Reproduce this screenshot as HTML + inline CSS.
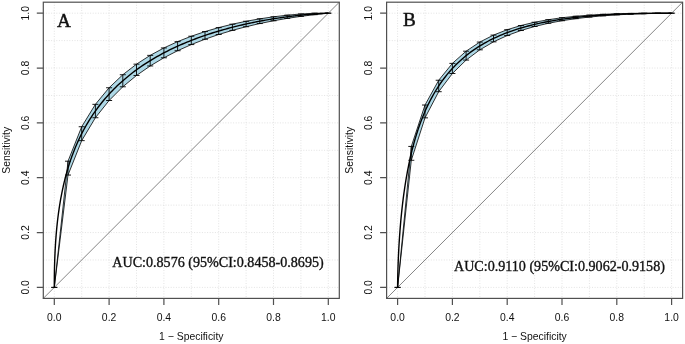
<!DOCTYPE html>
<html><head><meta charset="utf-8"><style>
html,body{margin:0;padding:0;background:#fff;}
svg{display:block;will-change:transform;}
</style></head><body>
<svg width="685" height="344" viewBox="0 0 685 344">
<rect width="685" height="344" fill="#fff"/>
<g stroke="#dcdcdc" stroke-width="0.8" stroke-dasharray="1 1.6"><line x1="54.30" y1="2.2" x2="54.30" y2="298.4"/><line x1="43.3" y1="287.40" x2="339.3" y2="287.40"/><line x1="81.70" y1="2.2" x2="81.70" y2="298.4"/><line x1="43.3" y1="259.98" x2="339.3" y2="259.98"/><line x1="109.10" y1="2.2" x2="109.10" y2="298.4"/><line x1="43.3" y1="232.56" x2="339.3" y2="232.56"/><line x1="136.50" y1="2.2" x2="136.50" y2="298.4"/><line x1="43.3" y1="205.14" x2="339.3" y2="205.14"/><line x1="163.90" y1="2.2" x2="163.90" y2="298.4"/><line x1="43.3" y1="177.72" x2="339.3" y2="177.72"/><line x1="191.30" y1="2.2" x2="191.30" y2="298.4"/><line x1="43.3" y1="150.30" x2="339.3" y2="150.30"/><line x1="218.70" y1="2.2" x2="218.70" y2="298.4"/><line x1="43.3" y1="122.88" x2="339.3" y2="122.88"/><line x1="246.10" y1="2.2" x2="246.10" y2="298.4"/><line x1="43.3" y1="95.46" x2="339.3" y2="95.46"/><line x1="273.50" y1="2.2" x2="273.50" y2="298.4"/><line x1="43.3" y1="68.04" x2="339.3" y2="68.04"/><line x1="300.90" y1="2.2" x2="300.90" y2="298.4"/><line x1="43.3" y1="40.62" x2="339.3" y2="40.62"/><line x1="328.30" y1="2.2" x2="328.30" y2="298.4"/><line x1="43.3" y1="13.20" x2="339.3" y2="13.20"/></g>
<line x1="43.3" y1="298.4" x2="339.3" y2="2.2" stroke="#858585" stroke-width="1.0"/>
<polygon fill="#add8e6" stroke="#000" stroke-width="0.8" points="54.30,287.40 68.00,175.06 81.70,140.63 95.40,117.73 109.10,100.51 122.80,86.79 136.50,75.48 150.20,65.94 163.90,57.79 177.60,50.73 191.30,44.59 205.00,39.22 218.70,34.50 232.40,30.36 246.10,26.72 259.80,23.54 273.50,20.77 287.20,18.38 300.90,16.35 314.60,14.67 328.30,13.20 328.30,13.20 314.60,13.21 300.90,13.99 287.20,15.20 273.50,16.82 259.80,18.83 246.10,21.28 232.40,24.19 218.70,27.60 205.00,31.59 191.30,36.23 177.60,41.64 163.90,47.95 150.20,55.36 136.50,64.16 122.80,74.74 109.10,87.76 95.40,104.33 81.70,126.74 68.00,161.19 54.30,287.40"/>
<path fill="none" stroke="#000" stroke-width="0.9" d="M54.30 287.40V287.40M51.29 287.40H57.31M51.29 287.40H57.31M68.00 175.06V161.19M64.99 175.06H71.01M64.99 161.19H71.01M81.70 140.63V126.74M78.69 140.63H84.71M78.69 126.74H84.71M95.40 117.73V104.33M92.39 117.73H98.41M92.39 104.33H98.41M109.10 100.51V87.76M106.09 100.51H112.11M106.09 87.76H112.11M122.80 86.79V74.74M119.79 86.79H125.81M119.79 74.74H125.81M136.50 75.48V64.16M133.49 75.48H139.51M133.49 64.16H139.51M150.20 65.94V55.36M147.19 65.94H153.21M147.19 55.36H153.21M163.90 57.79V47.95M160.89 57.79H166.91M160.89 47.95H166.91M177.60 50.73V41.64M174.59 50.73H180.61M174.59 41.64H180.61M191.30 44.59V36.23M188.29 44.59H194.31M188.29 36.23H194.31M205.00 39.22V31.59M201.99 39.22H208.01M201.99 31.59H208.01M218.70 34.50V27.60M215.69 34.50H221.71M215.69 27.60H221.71M232.40 30.36V24.19M229.39 30.36H235.41M229.39 24.19H235.41M246.10 26.72V21.28M243.09 26.72H249.11M243.09 21.28H249.11M259.80 23.54V18.83M256.79 23.54H262.81M256.79 18.83H262.81M273.50 20.77V16.82M270.49 20.77H276.51M270.49 16.82H276.51M287.20 18.38V15.20M284.19 18.38H290.21M284.19 15.20H290.21M300.90 16.35V13.99M297.89 16.35H303.91M297.89 13.99H303.91M314.60 14.67V13.21M311.59 14.67H317.61M311.59 13.21H317.61M328.30 13.20V13.20M325.29 13.20H331.31M325.29 13.20H331.31"/>
<polyline fill="none" stroke="#000" stroke-width="1.4" stroke-linejoin="round" points="54.30,287.40 54.30,287.38 54.30,287.38 54.30,287.38 54.30,287.37 54.30,287.37 54.30,287.37 54.30,287.37 54.30,287.37 54.30,287.36 54.30,287.36 54.30,287.36 54.30,287.36 54.30,287.35 54.30,287.35 54.30,287.35 54.30,287.34 54.30,287.34 54.30,287.34 54.30,287.33 54.30,287.33 54.30,287.33 54.30,287.32 54.30,287.32 54.30,287.31 54.30,287.31 54.30,287.30 54.30,287.29 54.30,287.29 54.30,287.28 54.30,287.27 54.30,287.27 54.30,287.26 54.30,287.25 54.30,287.24 54.30,287.23 54.30,287.22 54.30,287.21 54.30,287.20 54.30,287.19 54.30,287.18 54.30,287.17 54.30,287.15 54.30,287.14 54.30,287.12 54.30,287.11 54.30,287.09 54.30,287.08 54.30,287.06 54.30,287.04 54.30,287.02 54.30,287.00 54.30,286.98 54.30,286.95 54.30,286.93 54.30,286.91 54.30,286.88 54.30,286.85 54.30,286.82 54.30,286.79 54.30,286.76 54.30,286.73 54.30,286.69 54.30,286.66 54.30,286.62 54.30,286.58 54.30,286.54 54.30,286.49 54.30,286.45 54.30,286.40 54.30,286.35 54.30,286.30 54.30,286.24 54.30,286.19 54.30,286.13 54.30,286.07 54.30,286.00 54.30,285.93 54.30,285.86 54.30,285.79 54.30,285.71 54.30,285.63 54.30,285.55 54.30,285.46 54.30,285.37 54.30,285.28 54.30,285.18 54.30,285.08 54.30,284.97 54.30,284.86 54.30,284.75 54.30,284.63 54.30,284.51 54.30,284.38 54.30,284.24 54.31,284.11 54.31,283.96 54.31,283.81 54.31,283.66 54.31,283.50 54.31,283.33 54.31,283.16 54.31,282.98 54.31,282.79 54.31,282.60 54.31,282.40 54.31,282.19 54.31,281.98 54.32,281.76 54.32,281.53 54.32,281.29 54.32,281.04 54.32,280.79 54.32,280.53 54.33,280.26 54.33,279.98 54.33,279.69 54.33,279.39 54.33,279.08 54.34,278.76 54.34,278.43 54.34,278.09 54.35,277.74 54.35,277.38 54.35,277.01 54.36,276.63 54.36,276.23 54.37,275.83 54.37,275.41 54.38,274.98 54.39,274.54 54.39,274.08 54.40,273.61 54.41,273.13 54.41,272.63 54.42,272.12 54.43,271.60 54.44,271.06 54.45,270.51 54.46,269.94 54.48,269.36 54.49,268.76 54.50,268.15 54.52,267.52 54.53,266.88 54.55,266.22 54.57,265.54 54.58,264.85 54.60,264.14 54.62,263.41 54.65,262.67 54.67,261.91 54.69,261.13 54.72,260.34 54.75,259.52 54.78,258.69 54.81,257.84 54.84,256.97 54.88,256.09 54.92,255.18 54.96,254.26 55.00,253.31 55.04,252.35 55.09,251.37 55.14,250.37 55.19,249.35 55.25,248.31 55.31,247.25 55.37,246.17 55.44,245.08 55.50,243.96 55.58,242.82 55.65,241.67 55.73,240.49 55.82,239.29 55.91,238.08 56.00,236.84 56.10,235.59 56.20,234.31 56.31,233.02 56.43,231.71 56.55,230.37 56.67,229.02 56.80,227.65 56.94,226.26 57.09,224.85 57.24,223.43 57.40,221.98 57.56,220.52 57.74,219.04 57.92,217.54 58.11,216.02 58.31,214.48 58.52,212.93 58.73,211.36 58.96,209.78 59.19,208.17 59.44,206.56 59.70,204.92 59.96,203.27 60.24,201.61 60.53,199.93 60.84,198.24 61.15,196.53 61.48,194.81 61.82,193.08 62.17,191.33 62.53,189.57 62.92,187.80 63.31,186.02 63.72,184.22 64.14,182.42 64.59,180.61 65.04,178.78 65.51,176.95 66.00,175.11 66.51,173.26 67.04,171.40 67.58,169.54 68.14,167.67 68.72,165.79 69.32,163.91 69.93,162.03 70.57,160.14 71.23,158.24 71.91,156.34 72.61,154.44 73.33,152.54 74.07,150.64 74.83,148.73 75.62,146.83 76.43,144.93 77.26,143.02 78.11,141.12 78.99,139.22 79.90,137.32 80.82,135.43 81.77,133.54 82.75,131.65 83.75,129.77 84.78,127.90 85.83,126.03 86.91,124.16 88.01,122.31 89.14,120.46 90.29,118.62 91.47,116.79 92.68,114.97 93.91,113.15 95.17,111.35 96.46,109.56 97.77,107.78 99.11,106.01 100.48,104.25 101.87,102.51 103.29,100.78 104.73,99.06 106.20,97.36 107.70,95.67 109.22,94.00 110.77,92.34 112.35,90.70 113.95,89.07 115.57,87.46 117.22,85.87 118.90,84.29 120.60,82.73 122.32,81.19 124.07,79.66 125.84,78.16 127.63,76.67 129.45,75.20 131.28,73.75 133.14,72.32 135.02,70.91 136.92,69.51 138.84,68.14 140.78,66.79 142.74,65.45 144.71,64.14 146.70,62.85 148.71,61.58 150.74,60.32 152.78,59.09 154.84,57.88 156.91,56.69 158.99,55.52 161.09,54.37 163.20,53.24 165.32,52.13 167.44,51.04 169.58,49.97 171.73,48.93 173.88,47.90 176.05,46.89 178.21,45.91 180.39,44.94 182.56,44.00 184.75,43.07 186.93,42.16 189.11,41.28 191.30,40.41 193.49,39.56 195.67,38.74 197.85,37.93 200.04,37.14 202.21,36.37 204.39,35.61 206.55,34.88 208.72,34.16 210.87,33.46 213.02,32.78 215.16,32.12 217.28,31.47 219.40,30.84 221.51,30.23 223.61,29.63 225.69,29.05 227.76,28.49 229.82,27.94 231.86,27.41 233.89,26.89 235.90,26.39 237.89,25.90 239.86,25.43 241.82,24.97 243.76,24.52 245.68,24.09 247.58,23.67 249.46,23.27 251.32,22.88 253.15,22.50 254.97,22.13 256.76,21.77 258.53,21.43 260.28,21.09 262.00,20.77 263.70,20.46 265.38,20.16 267.03,19.87 268.65,19.59 270.25,19.32 271.83,19.06 273.38,18.81 274.90,18.57 276.40,18.34 277.87,18.11 279.31,17.90 280.73,17.69 282.12,17.49 283.49,17.30 284.83,17.11 286.14,16.93 287.43,16.76 288.69,16.60 289.92,16.44 291.13,16.29 292.31,16.14 293.46,16.00 294.59,15.87 295.69,15.74 296.77,15.62 297.82,15.50 298.85,15.39 299.85,15.28 300.83,15.18 301.78,15.08 302.70,14.99 303.61,14.90 304.49,14.81 305.34,14.73 306.17,14.65 306.98,14.57 307.77,14.50 308.53,14.43 309.27,14.37 309.99,14.31 310.69,14.25 311.37,14.19 312.03,14.14 312.67,14.09 313.28,14.04 313.88,13.99 314.46,13.95 315.02,13.91 315.56,13.87 316.09,13.83 316.60,13.80 317.09,13.76 317.56,13.73 318.01,13.70 318.46,13.67 318.88,13.64 319.29,13.62 319.68,13.59 320.07,13.57 320.43,13.55 320.78,13.53 321.12,13.51 321.45,13.49 321.76,13.47 322.07,13.46 322.36,13.44 322.64,13.42 322.90,13.41 323.16,13.40 323.41,13.39 323.64,13.37 323.87,13.36 324.08,13.35 324.29,13.34 324.49,13.33 324.68,13.32 324.86,13.32 325.04,13.31 325.20,13.30 325.36,13.30 325.51,13.29 325.66,13.28 325.80,13.28 325.93,13.27 326.05,13.27 326.17,13.26 326.29,13.26 326.40,13.25 326.50,13.25 326.60,13.25 326.69,13.24 326.78,13.24 326.87,13.24 326.95,13.24 327.02,13.23 327.10,13.23 327.16,13.23 327.23,13.23 327.29,13.22 327.35,13.22 327.41,13.22 327.46,13.22 327.51,13.22 327.56,13.22 327.60,13.22 327.64,13.21 327.68,13.21 327.72,13.21 327.76,13.21 327.79,13.21 327.82,13.21 327.85,13.21 327.88,13.21 327.91,13.21 327.93,13.21 327.95,13.21 327.98,13.21 328.00,13.21 328.02,13.21 328.03,13.20 328.05,13.20 328.07,13.20 328.08,13.20 328.10,13.20 328.11,13.20 328.12,13.20 328.14,13.20 328.15,13.20 328.16,13.20 328.17,13.20 328.18,13.20 328.19,13.20 328.19,13.20 328.20,13.20 328.21,13.20 328.21,13.20 328.22,13.20 328.23,13.20 328.23,13.20 328.24,13.20 328.24,13.20 328.25,13.20 328.25,13.20 328.25,13.20 328.26,13.20 328.26,13.20 328.26,13.20 328.27,13.20 328.27,13.20 328.27,13.20 328.27,13.20 328.27,13.20 328.28,13.20 328.28,13.20 328.28,13.20 328.28,13.20 328.28,13.20 328.28,13.20 328.29,13.20 328.29,13.20 328.29,13.20 328.29,13.20 328.29,13.20 328.29,13.20 328.29,13.20 328.29,13.20 328.29,13.20 328.29,13.20 328.29,13.20 328.29,13.20 328.29,13.20 328.30,13.20 328.30,13.20 328.30,13.20 328.30,13.20 328.30,13.20 328.30,13.20 328.30,13.20 328.30,13.20 328.30,13.20 328.30,13.20 328.30,13.20 328.30,13.20 328.30,13.20 328.30,13.20 328.30,13.20 328.30,13.20 328.30,13.20 328.30,13.20 328.30,13.20 328.30,13.20 328.30,13.20 328.30,13.20 328.30,13.20 328.30,13.20 328.30,13.20 328.30,13.20 328.30,13.20 328.30,13.20 328.30,13.20 328.30,13.20 328.30,13.20 328.30,13.20 328.30,13.20 328.30,13.20 328.30,13.20 328.30,13.20 328.30,13.20 328.30,13.20 328.30,13.20 328.30,13.20 328.30,13.20 328.30,13.20 328.30,13.20 328.30,13.20 328.30,13.20 328.30,13.20 328.30,13.20 328.30,13.20 328.30,13.20 328.30,13.20 328.30,13.20 328.30,13.20 328.30,13.20 328.30,13.20 328.30,13.20 328.30,13.20 328.30,13.20 328.30,13.20 328.30,13.20 328.30,13.20 328.30,13.20 328.30,13.20 328.30,13.20 328.30,13.20 328.30,13.20 328.30,13.20 328.30,13.20 328.30,13.20 328.30,13.20 328.30,13.20 328.30,13.20 328.30,13.20 328.30,13.20 328.30,13.20 328.30,13.20 328.30,13.20 328.30,13.20 328.30,13.20 328.30,13.20 328.30,13.20 328.30,13.20 328.30,13.20 328.30,13.20 328.30,13.20 328.30,13.20 328.30,13.20 328.30,13.20 328.30,13.20 328.30,13.20 328.30,13.20 328.30,13.20 328.30,13.20 328.30,13.20 328.30,13.20 328.30,13.20"/>
<rect x="43.3" y="2.2" width="296.0" height="296.2" fill="none" stroke="#505050" stroke-width="1.2"/>
<path stroke="#505050" stroke-width="1.2" d="M54.30 298.4V304.9M43.3 287.40H36.8M109.10 298.4V304.9M43.3 232.56H36.8M163.90 298.4V304.9M43.3 177.72H36.8M218.70 298.4V304.9M43.3 122.88H36.8M273.50 298.4V304.9M43.3 68.04H36.8M328.30 298.4V304.9M43.3 13.20H36.8"/>
<g font-family="Liberation Sans, sans-serif" font-size="10.4" fill="#111"><text x="54.30" y="320.6" text-anchor="middle">0.0</text><text transform="translate(28.80,287.40) rotate(-90)" text-anchor="middle">0.0</text><text x="109.10" y="320.6" text-anchor="middle">0.2</text><text transform="translate(28.80,232.56) rotate(-90)" text-anchor="middle">0.2</text><text x="163.90" y="320.6" text-anchor="middle">0.4</text><text transform="translate(28.80,177.72) rotate(-90)" text-anchor="middle">0.4</text><text x="218.70" y="320.6" text-anchor="middle">0.6</text><text transform="translate(28.80,122.88) rotate(-90)" text-anchor="middle">0.6</text><text x="273.50" y="320.6" text-anchor="middle">0.8</text><text transform="translate(28.80,68.04) rotate(-90)" text-anchor="middle">0.8</text><text x="328.30" y="320.6" text-anchor="middle">1.0</text><text transform="translate(28.80,13.20) rotate(-90)" text-anchor="middle">1.0</text></g>
<text x="191.30" y="339.7" text-anchor="middle" font-family="Liberation Sans, sans-serif" font-size="10.4" fill="#111">1 − Specificity</text>
<text transform="translate(10.00,150.30) rotate(-90)" text-anchor="middle" font-family="Liberation Sans, sans-serif" font-size="10.4" fill="#111">Sensitivity</text>
<text x="57" y="26.9" font-family="Liberation Serif, serif" font-size="19.2" fill="#111" stroke="#111" stroke-width="0.45">A</text>
<text x="112.3" y="266.8" font-family="Liberation Serif, serif" font-size="14.1" fill="#111" stroke="#111" stroke-width="0.35">AUC:0.8576 (95%CI:0.8458-0.8695)</text>
<g stroke="#dcdcdc" stroke-width="0.8" stroke-dasharray="1 1.6"><line x1="397.60" y1="2.2" x2="397.60" y2="298.4"/><line x1="386.6" y1="287.40" x2="682.6" y2="287.40"/><line x1="425.00" y1="2.2" x2="425.00" y2="298.4"/><line x1="386.6" y1="259.98" x2="682.6" y2="259.98"/><line x1="452.40" y1="2.2" x2="452.40" y2="298.4"/><line x1="386.6" y1="232.56" x2="682.6" y2="232.56"/><line x1="479.80" y1="2.2" x2="479.80" y2="298.4"/><line x1="386.6" y1="205.14" x2="682.6" y2="205.14"/><line x1="507.20" y1="2.2" x2="507.20" y2="298.4"/><line x1="386.6" y1="177.72" x2="682.6" y2="177.72"/><line x1="534.60" y1="2.2" x2="534.60" y2="298.4"/><line x1="386.6" y1="150.30" x2="682.6" y2="150.30"/><line x1="562.00" y1="2.2" x2="562.00" y2="298.4"/><line x1="386.6" y1="122.88" x2="682.6" y2="122.88"/><line x1="589.40" y1="2.2" x2="589.40" y2="298.4"/><line x1="386.6" y1="95.46" x2="682.6" y2="95.46"/><line x1="616.80" y1="2.2" x2="616.80" y2="298.4"/><line x1="386.6" y1="68.04" x2="682.6" y2="68.04"/><line x1="644.20" y1="2.2" x2="644.20" y2="298.4"/><line x1="386.6" y1="40.62" x2="682.6" y2="40.62"/><line x1="671.60" y1="2.2" x2="671.60" y2="298.4"/><line x1="386.6" y1="13.20" x2="682.6" y2="13.20"/></g>
<line x1="386.6" y1="298.4" x2="682.6" y2="2.2" stroke="#858585" stroke-width="1.0"/>
<polygon fill="#add8e6" stroke="#000" stroke-width="0.8" points="397.60,287.40 411.30,160.27 425.00,117.85 438.70,91.70 452.40,73.50 466.10,60.08 479.80,49.84 493.50,41.85 507.20,35.55 520.90,30.52 534.60,26.50 548.30,23.28 562.00,20.71 575.70,18.66 589.40,17.05 603.10,15.80 616.80,14.85 630.50,14.16 644.20,13.67 657.90,13.36 671.60,13.20 671.60,13.20 657.90,13.20 644.20,13.23 630.50,13.42 616.80,13.77 603.10,14.33 589.40,15.13 575.70,16.25 562.00,17.74 548.30,19.71 534.60,22.25 520.90,25.52 507.20,29.71 493.50,35.10 479.80,42.07 466.10,51.19 452.40,63.38 438.70,80.25 425.00,105.03 411.30,146.43 397.60,287.40"/>
<path fill="none" stroke="#000" stroke-width="0.9" d="M397.60 287.40V287.40M394.59 287.40H400.61M394.59 287.40H400.61M411.30 160.27V146.43M408.29 160.27H414.31M408.29 146.43H414.31M425.00 117.85V105.03M421.99 117.85H428.01M421.99 105.03H428.01M438.70 91.70V80.25M435.69 91.70H441.71M435.69 80.25H441.71M452.40 73.50V63.38M449.39 73.50H455.41M449.39 63.38H455.41M466.10 60.08V51.19M463.09 60.08H469.11M463.09 51.19H469.11M479.80 49.84V42.07M476.79 49.84H482.81M476.79 42.07H482.81M493.50 41.85V35.10M490.49 41.85H496.51M490.49 35.10H496.51M507.20 35.55V29.71M504.19 35.55H510.21M504.19 29.71H510.21M520.90 30.52V25.52M517.89 30.52H523.91M517.89 25.52H523.91M534.60 26.50V22.25M531.59 26.50H537.61M531.59 22.25H537.61M548.30 23.28V19.71M545.29 23.28H551.31M545.29 19.71H551.31M562.00 20.71V17.74M558.99 20.71H565.01M558.99 17.74H565.01M575.70 18.66V16.25M572.69 18.66H578.71M572.69 16.25H578.71M589.40 17.05V15.13M586.39 17.05H592.41M586.39 15.13H592.41M603.10 15.80V14.33M600.09 15.80H606.11M600.09 14.33H606.11M616.80 14.85V13.77M613.79 14.85H619.81M613.79 13.77H619.81M630.50 14.16V13.42M627.49 14.16H633.51M627.49 13.42H633.51M644.20 13.67V13.23M641.19 13.67H647.21M641.19 13.23H647.21M657.90 13.36V13.20M654.89 13.36H660.91M654.89 13.20H660.91M671.60 13.20V13.20M668.59 13.20H674.61M668.59 13.20H674.61"/>
<polyline fill="none" stroke="#000" stroke-width="1.4" stroke-linejoin="round" points="397.60,287.40 397.60,287.40 397.60,287.40 397.60,287.40 397.60,287.40 397.60,287.40 397.60,287.40 397.60,287.40 397.60,287.40 397.60,287.40 397.60,287.40 397.60,287.40 397.60,287.40 397.60,287.40 397.60,287.40 397.60,287.40 397.60,287.40 397.60,287.40 397.60,287.40 397.60,287.40 397.60,287.40 397.60,287.40 397.60,287.40 397.60,287.40 397.60,287.40 397.60,287.40 397.60,287.40 397.60,287.40 397.60,287.40 397.60,287.39 397.60,287.39 397.60,287.39 397.60,287.39 397.60,287.39 397.60,287.39 397.60,287.39 397.60,287.39 397.60,287.39 397.60,287.39 397.60,287.39 397.60,287.39 397.60,287.38 397.60,287.38 397.60,287.38 397.60,287.38 397.60,287.38 397.60,287.38 397.60,287.37 397.60,287.37 397.60,287.37 397.60,287.37 397.60,287.36 397.60,287.36 397.60,287.36 397.60,287.35 397.60,287.35 397.60,287.34 397.60,287.34 397.60,287.33 397.60,287.33 397.60,287.32 397.60,287.32 397.60,287.31 397.60,287.30 397.60,287.29 397.60,287.28 397.60,287.27 397.60,287.26 397.60,287.25 397.60,287.24 397.60,287.23 397.60,287.22 397.60,287.20 397.60,287.19 397.60,287.17 397.60,287.15 397.60,287.13 397.60,287.11 397.60,287.09 397.60,287.07 397.60,287.05 397.60,287.02 397.60,286.99 397.60,286.96 397.60,286.93 397.60,286.90 397.60,286.86 397.60,286.83 397.60,286.78 397.60,286.74 397.60,286.70 397.60,286.65 397.60,286.60 397.60,286.54 397.60,286.48 397.61,286.42 397.61,286.36 397.61,286.29 397.61,286.22 397.61,286.14 397.61,286.06 397.61,285.97 397.61,285.88 397.61,285.79 397.61,285.68 397.61,285.58 397.61,285.47 397.61,285.35 397.62,285.22 397.62,285.09 397.62,284.95 397.62,284.80 397.62,284.65 397.62,284.49 397.63,284.32 397.63,284.14 397.63,283.95 397.63,283.76 397.63,283.55 397.64,283.33 397.64,283.11 397.64,282.87 397.65,282.62 397.65,282.36 397.65,282.09 397.66,281.81 397.66,281.51 397.67,281.20 397.67,280.87 397.68,280.54 397.69,280.18 397.69,279.82 397.70,279.43 397.71,279.03 397.71,278.62 397.72,278.19 397.73,277.74 397.74,277.27 397.75,276.78 397.76,276.28 397.78,275.75 397.79,275.21 397.80,274.65 397.82,274.06 397.83,273.46 397.85,272.83 397.87,272.18 397.88,271.51 397.90,270.81 397.92,270.09 397.95,269.35 397.97,268.58 397.99,267.79 398.02,266.97 398.05,266.12 398.08,265.25 398.11,264.36 398.14,263.43 398.18,262.48 398.22,261.50 398.26,260.49 398.30,259.46 398.34,258.39 398.39,257.30 398.44,256.18 398.49,255.03 398.55,253.84 398.61,252.63 398.67,251.39 398.74,250.12 398.80,248.82 398.88,247.48 398.95,246.12 399.03,244.72 399.12,243.30 399.21,241.84 399.30,240.36 399.40,238.84 399.50,237.29 399.61,235.71 399.73,234.10 399.85,232.47 399.97,230.80 400.10,229.10 400.24,227.37 400.39,225.61 400.54,223.83 400.70,222.02 400.86,220.17 401.04,218.30 401.22,216.41 401.41,214.48 401.61,212.54 401.82,210.56 402.03,208.56 402.26,206.54 402.49,204.49 402.74,202.42 403.00,200.33 403.26,198.21 403.54,196.08 403.83,193.92 404.14,191.75 404.45,189.56 404.78,187.35 405.12,185.12 405.47,182.88 405.83,180.63 406.22,178.36 406.61,176.07 407.02,173.78 407.44,171.48 407.89,169.16 408.34,166.84 408.81,164.51 409.30,162.17 409.81,159.83 410.34,157.48 410.88,155.13 411.44,152.78 412.02,150.42 412.62,148.07 413.23,145.72 413.87,143.36 414.53,141.02 415.21,138.67 415.91,136.34 416.63,134.00 417.37,131.68 418.13,129.37 418.92,127.06 419.73,124.76 420.56,122.48 421.41,120.21 422.29,117.95 423.20,115.71 424.12,113.48 425.07,111.27 426.05,109.08 427.05,106.90 428.08,104.74 429.13,102.61 430.21,100.49 431.31,98.40 432.44,96.32 433.59,94.27 434.77,92.25 435.98,90.25 437.21,88.27 438.47,86.32 439.76,84.39 441.07,82.49 442.41,80.62 443.78,78.77 445.17,76.96 446.59,75.17 448.03,73.41 449.50,71.68 451.00,69.98 452.52,68.31 454.07,66.66 455.65,65.05 457.25,63.47 458.87,61.92 460.52,60.40 462.20,58.91 463.90,57.45 465.62,56.02 467.37,54.62 469.14,53.26 470.93,51.92 472.75,50.62 474.58,49.34 476.44,48.09 478.32,46.88 480.22,45.69 482.14,44.54 484.08,43.41 486.04,42.32 488.01,41.25 490.00,40.21 492.01,39.20 494.04,38.22 496.08,37.27 498.14,36.34 500.21,35.44 502.29,34.57 504.39,33.72 506.50,32.90 508.62,32.10 510.74,31.33 512.88,30.59 515.03,29.86 517.18,29.17 519.35,28.49 521.51,27.84 523.69,27.21 525.86,26.60 528.05,26.01 530.23,25.45 532.41,24.90 534.60,24.37 536.79,23.87 538.97,23.38 541.15,22.91 543.34,22.46 545.51,22.03 547.69,21.61 549.85,21.21 552.02,20.82 554.17,20.45 556.32,20.10 558.46,19.76 560.58,19.43 562.70,19.12 564.81,18.82 566.91,18.54 568.99,18.27 571.06,18.00 573.12,17.76 575.16,17.52 577.19,17.29 579.20,17.07 581.19,16.86 583.16,16.67 585.12,16.48 587.06,16.30 588.98,16.13 590.88,15.97 592.76,15.81 594.62,15.66 596.45,15.53 598.27,15.39 600.06,15.27 601.83,15.15 603.58,15.03 605.30,14.93 607.00,14.82 608.68,14.73 610.33,14.64 611.95,14.55 613.55,14.47 615.13,14.39 616.68,14.32 618.20,14.25 619.70,14.18 621.17,14.12 622.61,14.06 624.03,14.01 625.42,13.96 626.79,13.91 628.13,13.86 629.44,13.82 630.73,13.78 631.99,13.74 633.22,13.70 634.43,13.67 635.61,13.64 636.76,13.61 637.89,13.58 638.99,13.56 640.07,13.53 641.12,13.51 642.15,13.49 643.15,13.47 644.13,13.45 645.08,13.43 646.00,13.41 646.91,13.40 647.79,13.38 648.64,13.37 649.47,13.36 650.28,13.35 651.07,13.34 651.83,13.33 652.57,13.32 653.29,13.31 653.99,13.30 654.67,13.29 655.33,13.29 655.97,13.28 656.58,13.27 657.18,13.27 657.76,13.26 658.32,13.26 658.86,13.25 659.39,13.25 659.90,13.24 660.39,13.24 660.86,13.24 661.31,13.23 661.76,13.23 662.18,13.23 662.59,13.23 662.98,13.22 663.37,13.22 663.73,13.22 664.08,13.22 664.42,13.22 664.75,13.22 665.06,13.21 665.37,13.21 665.66,13.21 665.94,13.21 666.20,13.21 666.46,13.21 666.71,13.21 666.94,13.21 667.17,13.21 667.38,13.21 667.59,13.21 667.79,13.21 667.98,13.20 668.16,13.20 668.34,13.20 668.50,13.20 668.66,13.20 668.81,13.20 668.96,13.20 669.10,13.20 669.23,13.20 669.35,13.20 669.47,13.20 669.59,13.20 669.70,13.20 669.80,13.20 669.90,13.20 669.99,13.20 670.08,13.20 670.17,13.20 670.25,13.20 670.32,13.20 670.40,13.20 670.46,13.20 670.53,13.20 670.59,13.20 670.65,13.20 670.71,13.20 670.76,13.20 670.81,13.20 670.86,13.20 670.90,13.20 670.94,13.20 670.98,13.20 671.02,13.20 671.06,13.20 671.09,13.20 671.12,13.20 671.15,13.20 671.18,13.20 671.21,13.20 671.23,13.20 671.25,13.20 671.28,13.20 671.30,13.20 671.32,13.20 671.33,13.20 671.35,13.20 671.37,13.20 671.38,13.20 671.40,13.20 671.41,13.20 671.42,13.20 671.44,13.20 671.45,13.20 671.46,13.20 671.47,13.20 671.48,13.20 671.49,13.20 671.49,13.20 671.50,13.20 671.51,13.20 671.51,13.20 671.52,13.20 671.53,13.20 671.53,13.20 671.54,13.20 671.54,13.20 671.55,13.20 671.55,13.20 671.55,13.20 671.56,13.20 671.56,13.20 671.56,13.20 671.57,13.20 671.57,13.20 671.57,13.20 671.57,13.20 671.57,13.20 671.58,13.20 671.58,13.20 671.58,13.20 671.58,13.20 671.58,13.20 671.58,13.20 671.59,13.20 671.59,13.20 671.59,13.20 671.59,13.20 671.59,13.20 671.59,13.20 671.59,13.20 671.59,13.20 671.59,13.20 671.59,13.20 671.59,13.20 671.59,13.20 671.59,13.20 671.60,13.20 671.60,13.20 671.60,13.20 671.60,13.20 671.60,13.20 671.60,13.20 671.60,13.20 671.60,13.20 671.60,13.20 671.60,13.20 671.60,13.20 671.60,13.20 671.60,13.20 671.60,13.20 671.60,13.20 671.60,13.20 671.60,13.20 671.60,13.20 671.60,13.20 671.60,13.20 671.60,13.20 671.60,13.20 671.60,13.20 671.60,13.20 671.60,13.20 671.60,13.20 671.60,13.20 671.60,13.20 671.60,13.20 671.60,13.20 671.60,13.20 671.60,13.20 671.60,13.20 671.60,13.20 671.60,13.20 671.60,13.20 671.60,13.20 671.60,13.20 671.60,13.20 671.60,13.20 671.60,13.20 671.60,13.20 671.60,13.20 671.60,13.20 671.60,13.20 671.60,13.20 671.60,13.20 671.60,13.20 671.60,13.20 671.60,13.20 671.60,13.20 671.60,13.20 671.60,13.20 671.60,13.20 671.60,13.20 671.60,13.20 671.60,13.20 671.60,13.20 671.60,13.20 671.60,13.20 671.60,13.20 671.60,13.20 671.60,13.20 671.60,13.20 671.60,13.20 671.60,13.20 671.60,13.20 671.60,13.20 671.60,13.20 671.60,13.20 671.60,13.20 671.60,13.20 671.60,13.20 671.60,13.20 671.60,13.20 671.60,13.20 671.60,13.20 671.60,13.20 671.60,13.20 671.60,13.20 671.60,13.20 671.60,13.20 671.60,13.20 671.60,13.20 671.60,13.20 671.60,13.20 671.60,13.20 671.60,13.20 671.60,13.20 671.60,13.20 671.60,13.20 671.60,13.20 671.60,13.20 671.60,13.20 671.60,13.20"/>
<rect x="386.6" y="2.2" width="296.0" height="296.2" fill="none" stroke="#505050" stroke-width="1.2"/>
<path stroke="#505050" stroke-width="1.2" d="M397.60 298.4V304.9M386.6 287.40H380.1M452.40 298.4V304.9M386.6 232.56H380.1M507.20 298.4V304.9M386.6 177.72H380.1M562.00 298.4V304.9M386.6 122.88H380.1M616.80 298.4V304.9M386.6 68.04H380.1M671.60 298.4V304.9M386.6 13.20H380.1"/>
<g font-family="Liberation Sans, sans-serif" font-size="10.4" fill="#111"><text x="397.60" y="320.6" text-anchor="middle">0.0</text><text transform="translate(372.10,287.40) rotate(-90)" text-anchor="middle">0.0</text><text x="452.40" y="320.6" text-anchor="middle">0.2</text><text transform="translate(372.10,232.56) rotate(-90)" text-anchor="middle">0.2</text><text x="507.20" y="320.6" text-anchor="middle">0.4</text><text transform="translate(372.10,177.72) rotate(-90)" text-anchor="middle">0.4</text><text x="562.00" y="320.6" text-anchor="middle">0.6</text><text transform="translate(372.10,122.88) rotate(-90)" text-anchor="middle">0.6</text><text x="616.80" y="320.6" text-anchor="middle">0.8</text><text transform="translate(372.10,68.04) rotate(-90)" text-anchor="middle">0.8</text><text x="671.60" y="320.6" text-anchor="middle">1.0</text><text transform="translate(372.10,13.20) rotate(-90)" text-anchor="middle">1.0</text></g>
<text x="534.60" y="339.7" text-anchor="middle" font-family="Liberation Sans, sans-serif" font-size="10.4" fill="#111">1 − Specificity</text>
<text transform="translate(353.30,150.30) rotate(-90)" text-anchor="middle" font-family="Liberation Sans, sans-serif" font-size="10.4" fill="#111">Sensitivity</text>
<text x="403.1" y="26" font-family="Liberation Serif, serif" font-size="19.2" fill="#111" stroke="#111" stroke-width="0.45">B</text>
<text x="454.0" y="270.5" font-family="Liberation Serif, serif" font-size="14.1" fill="#111" stroke="#111" stroke-width="0.35">AUC:0.9110 (95%CI:0.9062-0.9158)</text>
</svg>
</body></html>
